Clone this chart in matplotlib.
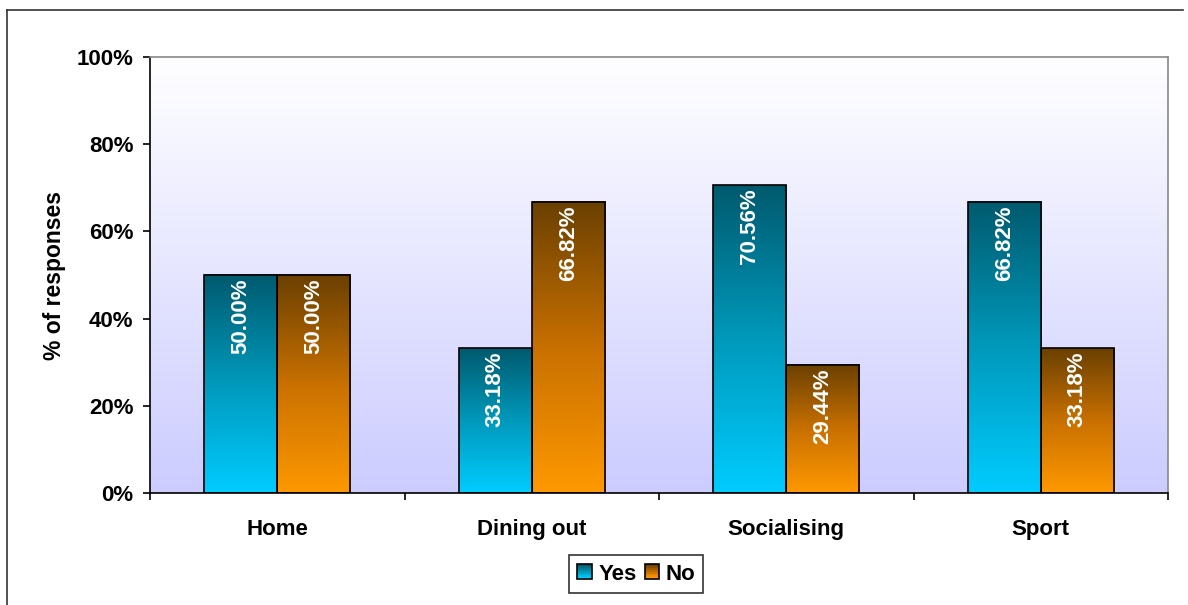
import numpy as np
import matplotlib
matplotlib.use("Agg")
import matplotlib.pyplot as plt
from matplotlib.colors import LinearSegmentedColormap
from matplotlib.lines import Line2D
from matplotlib.patches import Rectangle
from matplotlib.legend_handler import HandlerBase

categories = ["Home", "Dining out", "Socialising", "Sport"]
yes_values = [50.00, 33.18, 70.56, 66.82]
no_values = [50.00, 66.82, 29.44, 33.18]
series_names = ["Yes", "No"]
yticks = [0, 20, 40, 60, 80, 100]
ytick_labels = ["0%", "20%", "40%", "60%", "80%", "100%"]

plt.rcParams['font.family'] = ['Liberation Sans', 'DejaVu Sans']

W, H = 1188, 605
fig = plt.figure(figsize=(W / 100, H / 100), dpi=100)
ax = fig.add_axes([150 / W, 1 - 493 / H, (1168 - 150) / W, (493 - 57) / H])

cmap_yes = LinearSegmentedColormap.from_list("yes", ["#00CCFF", "#0099BB", "#005A6E"])
cmap_no = LinearSegmentedColormap.from_list("no", ["#FF9900", "#C87000", "#6A4000"])
cmap_bg = LinearSegmentedColormap.from_list("bg", ["#CCCCFF", "#FFFFFF"])

# background gradient
grad = np.linspace(0, 1, 256).reshape(-1, 1)
ax.imshow(grad, cmap=cmap_bg, origin="lower", aspect="auto",
          extent=[0, 1, 0, 1], transform=ax.transAxes, zorder=0)

x = np.arange(len(categories))
bw = 0.287
for vals, cm, off in [(yes_values, cmap_yes, -bw / 2), (no_values, cmap_no, bw / 2)]:
    bars = ax.bar(x + off, vals, width=bw, facecolor="none", edgecolor="black",
                  linewidth=1.2, zorder=3)
    for b, v in zip(bars, vals):
        x0 = b.get_x()
        ax.imshow(grad, cmap=cm, origin="lower", aspect="auto",
                  extent=[x0, x0 + bw, 0, v], zorder=2)
        ax.annotate(f"{v:.2f}%", (x0 + bw / 2, v), xytext=(0, -2.5),
                    textcoords="offset points", rotation=90, ha="center",
                    va="top", color="white", fontsize=16, fontweight="bold",
                    zorder=4)

ax.set_xlim(-0.5, len(categories) - 0.5)
ax.set_ylim(0, 100)
ax.set_yticks(yticks)
ax.set_yticklabels(ytick_labels, fontsize=16, fontweight="bold")
ax.set_xticks(x)
ax.set_xticklabels(categories, fontsize=16, fontweight="bold")
ax.tick_params(axis="x", length=0, pad=19)
ax.set_xticks(np.arange(-0.5, len(categories)), minor=True)
ax.tick_params(axis="x", which="minor", length=5, width=1.2, direction="out")
ax.tick_params(axis="y", length=5, width=1.2, direction="out", pad=7)
fig.text(54 / W, 1 - 275 / H, "% of responses", rotation=90, ha="center",
         va="center", fontsize=16.5, fontweight="bold")

for s in ["top", "right"]:
    ax.spines[s].set_color("#888888")
    ax.spines[s].set_linewidth(1.2)
for s in ["left", "bottom"]:
    ax.spines[s].set_color("black")
    ax.spines[s].set_linewidth(1.2)


class GradHandler(HandlerBase):
    def __init__(self, cm):
        super().__init__()
        self.cm = cm

    def create_artists(self, legend, orig_handle, xdescent, ydescent, width,
                       height, fontsize, trans):
        s = min(width, height) * 0.95
        cx = -xdescent + width / 2
        cy = -ydescent + height / 2
        arts = []
        n = 8
        for i in range(n):
            r = Rectangle((cx - s / 2, cy - s / 2 + s * i / n), s, s / n,
                          facecolor=self.cm(i / (n - 1)), edgecolor="none",
                          transform=trans)
            arts.append(r)
        arts.append(Rectangle((cx - s / 2, cy - s / 2), s, s, facecolor="none",
                              edgecolor="black", linewidth=1.2, transform=trans))
        return arts


h_yes = Rectangle((0, 0), 1, 1)
h_no = Rectangle((0, 0), 1, 1)
leg = fig.legend([h_yes, h_no], series_names, loc="center",
                 bbox_to_anchor=(636 / W, 1 - 574 / H), ncol=2,
                 prop={"size": 16, "weight": "bold"},
                 handler_map={h_yes: GradHandler(cmap_yes), h_no: GradHandler(cmap_no)},
                 frameon=True, fancybox=False, edgecolor="black",
                 handlelength=0.7, handletextpad=0.25, columnspacing=0.35,
                 borderpad=0.38, borderaxespad=0)
leg.get_frame().set_linewidth(1.2)

# outer chart border
fig.add_artist(Line2D([7 / W, 7 / W], [0, 1 - 10 / H], color="#333333",
                      linewidth=1.2, transform=fig.transFigure))
fig.add_artist(Line2D([7 / W, 1183 / W], [1 - 10 / H, 1 - 10 / H], color="#333333",
                      linewidth=1.2, transform=fig.transFigure))

fig.savefig("out.png", dpi=100)
